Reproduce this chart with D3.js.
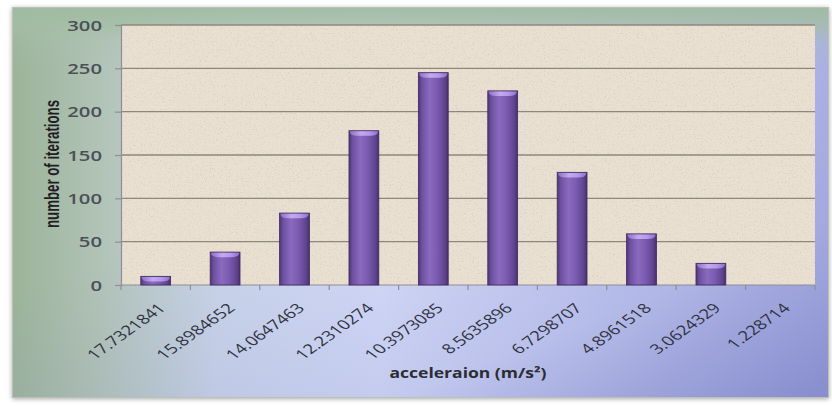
<!DOCTYPE html>
<html>
<head>
<meta charset="utf-8">
<script src="https://cdn.jsdelivr.net/npm/d3@7"></script>
<style>
  html, body { margin: 0; padding: 0; background: #ffffff; }
  svg { display: block; }
</style>
</head>
<body>
<svg id="chart" width="832" height="406"></svg>
<script>
// Histogram of acceleration bins (m/s²) against number of iterations
const categories = ["17.7321841", "15.8984652", "14.0647463", "12.2310274", "10.3973085",
                    "8.5635896", "6.7298707", "4.8961518", "3.0624329", "1.228714"];
const counts = [10, 38, 83, 178, 245, 224, 130, 59, 25, 0];
const yTicks = [0, 50, 100, 150, 200, 250, 300];
const xTitle = "acceleraion (m/s²)";
const yTitle = "number of iterations";

const W = 832, H = 406;
const frame = { x: 12, y: 7, w: 817, h: 391 };
const plot = { left: 121, right: 815, top: 25, bottom: 285 };
const SX = 1.4; // horizontal stretch applied to the chart's lettering

const svg = d3.select("#chart");
const defs = svg.append("defs");

// ---- gradients ----
function linGrad(id, x1, y1, x2, y2, stops) {
  const g = defs.append("linearGradient").attr("id", id)
    .attr("x1", x1).attr("y1", y1).attr("x2", x2).attr("y2", y2);
  stops.forEach(s => g.append("stop").attr("offset", s[0])
    .attr("stop-color", s[1]).attr("stop-opacity", s[2] == null ? 1 : s[2]));
}
linGrad("bgH", 0, 0, 1, 0, [[0, "#9cb399"], [0.1, "#b0c2b4"], [0.25, "#cbd6ea"], [0.45, "#d8dffa"],
  [0.7, "#c7cdf3"], [1, "#aeb4e6"]]);
linGrad("bgDiag", 0.45, 0.35, 1, 1, [[0, "#7d83c6", 0], [0.6, "#7d83c6", 0.22], [1, "#767cc2", 0.7]]);
linGrad("bgTop", 0, 0, 0, 1, [[0, "#9fbba0", 0.95], [0.045, "#a3bea5", 0.8], [0.09, "#a8c0ab", 0.25], [0.16, "#a8c0ab", 0]]);
linGrad("barBody", 0, 0, 1, 0, [[0, "#4f3578"], [0.12, "#6e50a0"], [0.38, "#8a6abf"], [0.62, "#7b5cb0"],
  [0.88, "#614490"], [1, "#47306d"]]);
linGrad("barCap", 0, 0, 1, 0, [[0, "#8e70c4"], [0.4, "#c3a9f2"], [0.7, "#b598ea"], [1, "#8f72c6"]]);

// speckled paper texture for the plot area
const noise = defs.append("filter").attr("id", "speckle")
  .attr("x", 0).attr("y", 0).attr("width", 1).attr("height", 1);
noise.append("feTurbulence").attr("type", "fractalNoise")
  .attr("baseFrequency", 0.75).attr("numOctaves", 2).attr("seed", 7).attr("result", "n");
noise.append("feColorMatrix").attr("in", "n").attr("type", "matrix")
  .attr("values", "0 0 0 0 0.55  0 0 0 0 0.50  0 0 0 0 0.44  3.2 0 0 0 -1.75");

const shadow = defs.append("filter").attr("id", "frameShadow")
  .attr("x", -0.05).attr("y", -0.05).attr("width", 1.1).attr("height", 1.1);
shadow.append("feGaussianBlur").attr("in", "SourceAlpha").attr("stdDeviation", 2.5);
shadow.append("feOffset").attr("dx", 0).attr("dy", 1).attr("result", "b");
shadow.append("feComponentTransfer").append("feFuncA").attr("type", "linear").attr("slope", 0.35);
const mrg = shadow.append("feMerge");
mrg.append("feMergeNode");
mrg.append("feMergeNode").attr("in", "SourceGraphic");

// ---- chart frame ----
svg.append("rect").attr("x", frame.x).attr("y", frame.y).attr("width", frame.w).attr("height", frame.h)
  .attr("fill", "url(#bgH)").attr("filter", "url(#frameShadow)");
svg.append("rect").attr("x", frame.x).attr("y", frame.y).attr("width", frame.w).attr("height", frame.h)
  .attr("fill", "url(#bgDiag)");
svg.append("rect").attr("x", frame.x).attr("y", frame.y).attr("width", frame.w).attr("height", frame.h)
  .attr("fill", "url(#bgTop)");
svg.append("rect").attr("x", frame.x + 0.5).attr("y", frame.y + 0.5).attr("width", frame.w - 1).attr("height", frame.h - 1)
  .attr("fill", "none").attr("stroke", "#b9c2b9").attr("stroke-width", 1);

// ---- scales ----
const x = d3.scaleBand().domain(categories).range([plot.left, plot.right])
  .paddingInner(0.57).paddingOuter(0.285);
const y = d3.scaleLinear().domain([0, 300]).range([plot.bottom, plot.top]);

// ---- plot area ----
svg.append("rect").attr("x", plot.left).attr("y", plot.top)
  .attr("width", plot.right - plot.left).attr("height", plot.bottom - plot.top)
  .attr("fill", "#e9e0d1");
svg.append("rect").attr("x", plot.left).attr("y", plot.top)
  .attr("width", plot.right - plot.left).attr("height", plot.bottom - plot.top)
  .attr("filter", "url(#speckle)").attr("opacity", 0.55);

// gridlines
svg.append("g").selectAll("line").data(yTicks.filter(d => d > 0)).join("line")
  .attr("x1", plot.left).attr("x2", plot.right)
  .attr("y1", d => y(d)).attr("y2", d => y(d))
  .attr("stroke", "#8f877d").attr("stroke-width", 1.3);

// ---- y axis ----
const yAxis = d3.axisLeft(y).tickValues(yTicks).tickSize(6).tickPadding(0).tickFormat(d3.format("d"));
const gy = svg.append("g").attr("transform", `translate(${plot.left},0)`).call(yAxis);
gy.select(".domain").attr("stroke", "#8e8e96").attr("stroke-width", 1.2);
gy.selectAll(".tick line").attr("stroke", "#8e8e96").attr("stroke-width", 1.2);
gy.selectAll(".tick text").remove();
gy.selectAll(".tick").append("text")
  .attr("transform", `translate(-19,0) scale(${SX},1)`)
  .attr("dy", "0.36em")
  .attr("text-anchor", "end")
  .attr("fill", "#4b5058")
  .attr("font-family", "'Open Sans', 'Liberation Sans', sans-serif")
  .attr("font-size", 14.5)
  .attr("font-weight", 600)
  .text(d => d);

// ---- x axis ----
const xTickPos = d3.range(categories.length + 1).map(i => plot.left + i * x.step());
const gx = svg.append("g");
gx.append("line").attr("x1", plot.left).attr("x2", plot.right)
  .attr("y1", plot.bottom).attr("y2", plot.bottom)
  .attr("stroke", "#8e8e96").attr("stroke-width", 1.2);
gx.selectAll("line.tk").data(xTickPos).join("line").attr("class", "tk")
  .attr("x1", d => d).attr("x2", d => d)
  .attr("y1", plot.bottom).attr("y2", plot.bottom + 5)
  .attr("stroke", "#8e8e96").attr("stroke-width", 1.2);
gx.selectAll("text").data(categories).join("text")
  .attr("transform", d => `translate(${x(d) + x.bandwidth() / 2 + 11},309) scale(${SX},1) rotate(-45)`)
  .attr("text-anchor", "end")
  .attr("fill", "#2f3240")
  .attr("font-family", "'Open Sans', 'Liberation Sans', sans-serif")
  .attr("font-size", 13.4)
  .text(d => d);

// ---- bars ----
const bars = svg.append("g").selectAll("g").data(categories.map((c, i) => ({ c, v: counts[i] })))
  .join("g").filter(d => d.v > 0);
bars.append("rect")
  .attr("x", d => x(d.c)).attr("y", d => y(d.v))
  .attr("width", x.bandwidth()).attr("height", d => y(0) - y(d.v))
  .attr("fill", "url(#barBody)")
  .attr("stroke", "#3f2a60").attr("stroke-width", 0.8);
// rounded highlight cap on top of each bar
bars.append("path")
  .attr("d", d => {
    const x0 = x(d.c) + 0.8, x1 = x(d.c) + x.bandwidth() - 0.8, t = y(d.v) + 0.6;
    const h = Math.min(4.5, (y(0) - y(d.v)) * 0.6);
    return `M${x0},${t} L${x1},${t} Q${x1},${t + h} ${(x0 + x1) / 2 + 6},${t + h} L${(x0 + x1) / 2 - 6},${t + h} Q${x0},${t + h} ${x0},${t} Z`;
  })
  .attr("fill", "url(#barCap)");

// ---- axis titles ----
svg.append("text")
  .attr("transform", `translate(${(plot.left + plot.right) / 2},378)`)
  .attr("text-anchor", "middle")
  .attr("fill", "#2b2d33")
  .attr("font-family", "'Open Sans', 'Liberation Sans', sans-serif")
  .attr("font-size", 13.5)
  .attr("font-weight", 700)
  .attr("textLength", 157).attr("lengthAdjust", "spacingAndGlyphs")
  .text(xTitle);

svg.append("text")
  .attr("transform", `translate(59,164) scale(1.45,1) rotate(-90)`)
  .attr("text-anchor", "middle")
  .attr("fill", "#1f2024")
  .attr("font-family", "'Liberation Sans Narrow', 'Liberation Sans', sans-serif")
  .attr("font-size", 13.5)
  .attr("font-weight", 700)
  .attr("textLength", 128).attr("lengthAdjust", "spacingAndGlyphs")
  .text(yTitle);
</script>
</body>
</html>
